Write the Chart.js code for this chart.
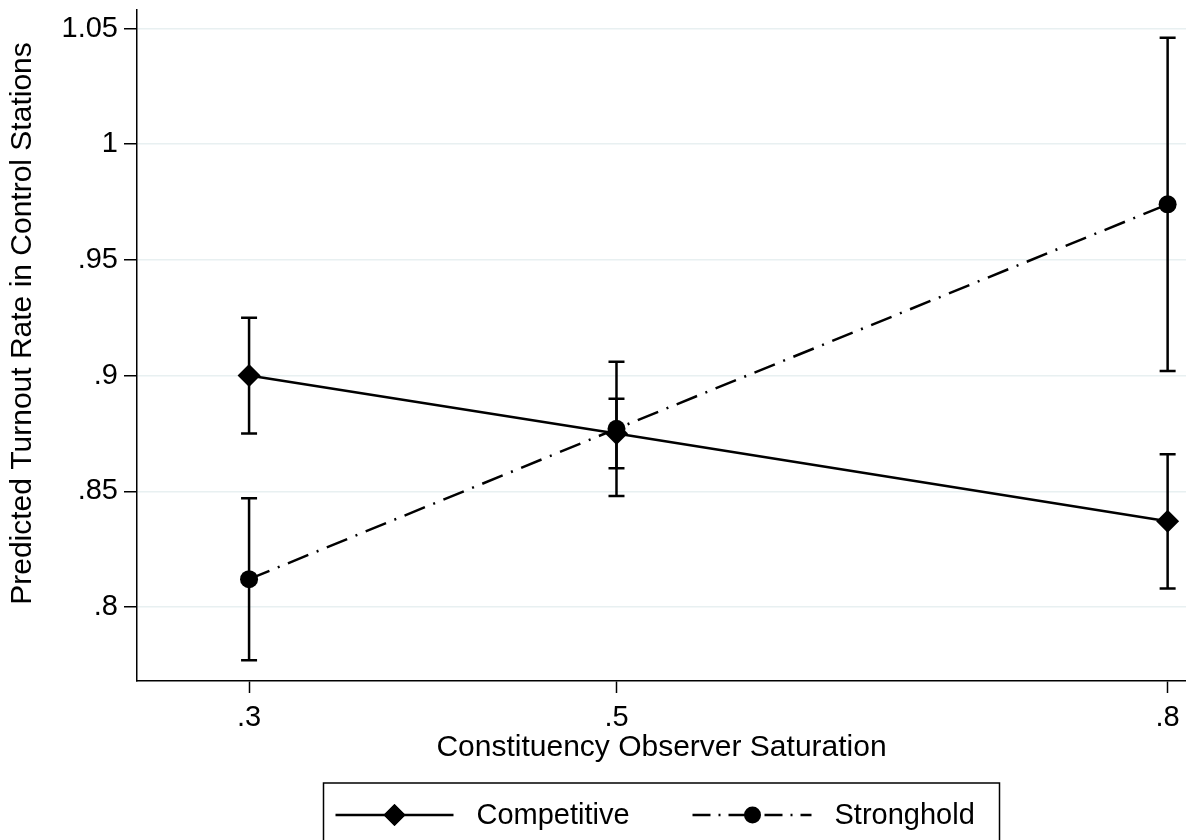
<!DOCTYPE html>
<html>
<head>
<meta charset="utf-8">
<script src="https://cdn.jsdelivr.net/npm/chart.js@4"></script>
<style>
  html, body { margin: 0; padding: 0; background: #fff; }
  #wrap { width: 1186px; height: 840px; }
</style>
</head>
<body>
<div id="wrap"><canvas id="myChart" width="1186" height="840"></canvas></div>
<script>
  // Data
  var saturation = [0.3, 0.5, 0.8];
  var competitive = [0.900, 0.875, 0.837];
  var competitiveLow = [0.875, 0.848, 0.808];
  var competitiveHigh = [0.925, 0.906, 0.866];
  var stronghold = [0.812, 0.877, 0.974];
  var strongholdLow = [0.777, 0.860, 0.902];
  var strongholdHigh = [0.847, 0.890, 1.046];
  var xTicks = [0.3, 0.5, 0.8];
  var yTicks = [0.8, 0.85, 0.9, 0.95, 1, 1.05];
  var yTitle = 'Predicted Turnout Rate in Control Stations';

  var FONT = '"Liberation Sans", Arial, Helvetica, sans-serif';

  function pts(ys) {
    return saturation.map(function (x, i) { return { x: x, y: ys[i] }; });
  }
  function fmt(v) {
    return String(parseFloat(v.toFixed(2))).replace(/^0\./, '.');
  }

  // Error bars under the markers
  var errorBars = {
    id: 'errorBars',
    beforeDatasetsDraw: function (chart) {
      var ctx = chart.ctx;
      var xs = chart.scales.x, ys = chart.scales.y;
      var sets = [[competitiveLow, competitiveHigh], [strongholdLow, strongholdHigh]];
      ctx.save();
      ctx.strokeStyle = '#000';
      ctx.lineWidth = 2.5;
      sets.forEach(function (s) {
        saturation.forEach(function (x, i) {
          var px = xs.getPixelForValue(x);
          var lo = ys.getPixelForValue(s[0][i]);
          var hi = ys.getPixelForValue(s[1][i]);
          ctx.beginPath();
          ctx.moveTo(px, lo); ctx.lineTo(px, hi);
          ctx.moveTo(px - 8, lo); ctx.lineTo(px + 8, lo);
          ctx.moveTo(px - 8, hi); ctx.lineTo(px + 8, hi);
          ctx.stroke();
        });
      });
      ctx.restore();
    }
  };

  // y title (sits a bit above the plot centre, as in the original) and the legend box
  var extras = {
    id: 'extras',
    afterDraw: function (chart) {
      var ctx = chart.ctx;
      var area = chart.chartArea;

      ctx.save();
      ctx.translate(22, (area.top + area.bottom) / 2 - 22);
      ctx.rotate(-Math.PI / 2);
      ctx.font = '30px ' + FONT;
      ctx.fillStyle = '#000';
      ctx.textAlign = 'center';
      ctx.textBaseline = 'middle';
      ctx.fillText(yTitle, 0, 1);
      ctx.restore();

      var cx = (area.left + area.right) / 2;
      var left = cx - 338, top = 783, w = 676;
      var y = 815;
      ctx.save();
      ctx.strokeStyle = '#000';
      ctx.lineWidth = 1.5;
      ctx.strokeRect(left, top, w, 70);

      // Competitive
      ctx.lineWidth = 2.5;
      ctx.beginPath();
      ctx.moveTo(left + 12, y); ctx.lineTo(left + 130, y);
      ctx.stroke();
      Chart.helpers.drawPoint(ctx, { pointStyle: 'rectRot', radius: 11, borderWidth: 0 }, left + 71, y);
      ctx.fillStyle = '#000';
      ctx.fill();

      // Stronghold
      ctx.setLineDash([18, 8, 2, 8]);
      ctx.beginPath();
      ctx.moveTo(left + 369, y); ctx.lineTo(left + 488, y);
      ctx.stroke();
      ctx.setLineDash([]);
      ctx.beginPath();
      ctx.arc(left + 429, y, 8.5, 0, Math.PI * 2);
      ctx.fill();

      ctx.font = '29px ' + FONT;
      ctx.textBaseline = 'middle';
      ctx.fillText('Competitive', left + 153, y + 1);
      ctx.fillText('Stronghold', left + 511, y + 1);
      ctx.restore();
    }
  };

  var ctx = document.getElementById('myChart').getContext('2d');

  var data = {
    datasets: [{
      label: 'Competitive',
      data: pts(competitive),
      borderColor: '#000',
      backgroundColor: '#000',
      borderWidth: 2.5,
      pointStyle: 'rectRot',
      pointRadius: 11.5,
      pointBorderWidth: 0,
      pointHoverRadius: 11.5
    }, {
      label: 'Stronghold',
      data: pts(stronghold),
      borderColor: '#000',
      backgroundColor: '#000',
      borderWidth: 2.5,
      borderDash: [22, 9, 2, 9],
      pointStyle: 'circle',
      pointRadius: 9,
      pointBorderWidth: 0,
      pointHoverRadius: 9
    }]
  };

  var options = {
    responsive: false,
    animation: false,
    layout: { autoPadding: false, padding: { top: 10, right: 0, bottom: 0, left: 0 } },
    plugins: {
      legend: { display: false },
      tooltip: { enabled: false }
    },
    scales: {
      x: {
        type: 'linear',
        min: 0.239,
        max: 0.81,
        afterBuildTicks: function (s) { s.ticks = xTicks.map(function (v) { return { value: v }; }); },
        afterFit: function (s) {
          s.height = 159;
          s.paddingLeft = 0;
          s.paddingRight = 0;
        },
        grid: { drawOnChartArea: false, drawTicks: true, tickLength: 12, tickColor: '#000', tickWidth: 1.5 },
        border: { display: true, color: '#000', width: 1.5 },
        ticks: {
          color: '#000',
          font: { family: FONT, size: 29 },
          padding: 8,
          maxRotation: 0,
          callback: function (v) { return fmt(v); }
        },
        title: {
          display: true,
          text: 'Constituency Observer Saturation',
          color: '#000',
          font: { family: FONT, size: 30 },
          padding: { top: 0, bottom: 74 }
        }
      },
      y: {
        type: 'linear',
        min: 0.768,
        max: 1.058,
        afterBuildTicks: function (s) { s.ticks = yTicks.map(function (v) { return { value: v }; }); },
        afterFit: function (s) {
          s.width = 137;
          s.paddingTop = 0;
          s.paddingBottom = 0;
        },
        grid: { color: '#e8f0f1', lineWidth: 1.5, drawTicks: true, tickLength: 13, tickColor: '#000', tickWidth: 1.5 },
        border: { display: true, color: '#000', width: 1.5 },
        ticks: {
          color: '#000',
          font: { family: FONT, size: 29 },
          padding: 6,
          callback: function (v) { return fmt(v); }
        },
        title: { display: false }
      }
    }
  };

  var chart = new Chart(ctx, {
    type: 'line',
    data: data,
    options: options,
    plugins: [errorBars, extras]
  });
</script>
</body>
</html>
